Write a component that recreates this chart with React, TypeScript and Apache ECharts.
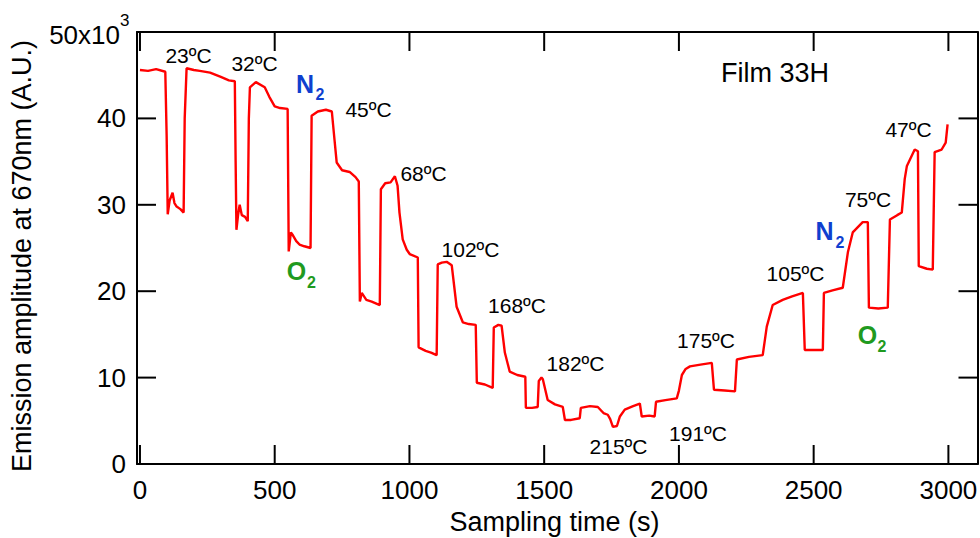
import React, { useEffect, useRef } from "react";
import * as echarts from "echarts";

// Sampling time (s)
const times = [
  0, 30, 60, 94, 99, 103, 110, 121, 128, 136, 150, 162, 166, 173, 200, 222, 260, 300, 330, 352,
  355, 358, 364, 370, 378, 390, 400, 404, 408, 430, 463, 480, 500, 520, 548, 552, 560, 567, 580,
  592, 610, 633, 637, 660, 690, 712, 722, 730, 750, 778, 800, 812, 816, 823, 840, 860, 890, 894,
  910, 930, 946, 956, 963, 975, 990, 1001, 1031, 1034, 1060, 1080, 1101, 1105, 1120, 1138, 1157,
  1175, 1198, 1220, 1246, 1250, 1280, 1309, 1313, 1330, 1342, 1354, 1372, 1400, 1430, 1432, 1455,
  1476, 1480, 1490, 1495, 1513, 1540, 1569, 1577, 1600, 1632, 1636, 1670, 1699, 1720, 1736, 1745,
  1755, 1770, 1781, 1799, 1830, 1855, 1862, 1890, 1910, 1915, 1950, 1992, 2000, 2011, 2025, 2041,
  2080, 2122, 2130, 2170, 2208, 2215, 2260, 2311, 2326, 2348, 2385, 2420, 2460, 2467, 2500, 2534,
  2538, 2570, 2608, 2627, 2645, 2682, 2701, 2705, 2740, 2775, 2783, 2810, 2827, 2838, 2846, 2875,
  2887, 2890, 2920, 2942, 2949, 2975, 2990, 2997,
];

// Emission amplitude at 670 nm (x10^3 A.U.)
const amplitude = [
  45.6, 45.5, 45.7, 45.4, 38, 28.9, 30.5, 31.4, 30.2, 29.8, 29.5, 29.1, 40, 45.8, 45.6, 45.5, 45.3,
  44.8, 44.4, 44.3, 35, 27.1, 28.8, 30.0, 28.8, 28.6, 28.1, 40, 43.6, 44.2, 43.6, 42.5, 41.4, 41.2,
  41.1, 24.6, 26.8, 26.5, 25.8, 25.4, 25.2, 25.0, 40.3, 40.8, 41.0, 40.8, 37.5, 34.9, 34.0, 33.8,
  33.2, 32.7, 18.8, 19.8, 19.0, 18.8, 18.4, 31.8, 32.5, 32.6, 33.3, 32.2, 29.1, 26.0, 24.8, 24.3,
  23.9, 13.5, 13.1, 12.9, 12.6, 23.1, 23.3, 23.4, 23.0, 18.2, 16.4, 16.2, 16.1, 9.4, 9.2, 8.8,
  15.8, 16.1, 16.0, 12.9, 10.7, 10.3, 10.1, 6.5, 6.5, 6.6, 9.6, 10.0, 9.8, 7.4, 6.9, 6.6, 5.1,
  5.1, 5.3, 6.5, 6.7, 6.6, 5.9, 5.7, 5.2, 4.3, 4.4, 5.5, 6.3, 6.7, 7.0, 5.5, 5.6, 5.5, 7.2, 7.4,
  7.6, 8.5, 10.3, 11.0, 11.3, 11.5, 11.7, 8.6, 8.5, 8.4, 12.1, 12.4, 12.6, 15.9, 18.4, 19.0, 19.4,
  19.8, 13.2, 13.2, 13.2, 19.8, 20.1, 20.4, 24.5, 26.8, 28.0, 28.0, 18.1, 18.0, 18.1, 28.3, 28.8,
  29.1, 33.0, 34.5, 36.4, 36.2, 22.9, 22.6, 22.5, 36.1, 36.4, 37.2, 39.3,
];

const xTicks = [0, 500, 1000, 1500, 2000, 2500, 3000];
const yTicks = [0, 10, 20, 30, 40, 50];

const temperatureLabels = [
  "23ºC", "32ºC", "45ºC", "68ºC", "102ºC", "168ºC", "182ºC",
  "215ºC", "191ºC", "175ºC", "105ºC", "75ºC", "47ºC",
];
const gasLabels = ["N", "O", "N", "O"];
const sampleName = "Film 33H";
const xTitle = "Sampling time (s)";
const yTitle = "Emission amplitude at 670nm (A.U.)";

// layout (pixel centres) for annotations
const tempPos = [
  [188.5, 55], [254.5, 63.5], [368.5, 109.5], [423.5, 173.5], [470.5, 249], [517, 305.5],
  [575.5, 363], [618.5, 446], [698, 433], [706, 340.5], [795.5, 273], [868, 199.5], [908.5, 129],
];
const gasPos = [
  [305, 83.5, 320, 94.5],
  [296.5, 271, 311.5, 282.5],
  [824.5, 230.5, 840, 242],
  [867.5, 335, 882, 346.5],
];
const gasColor: Record<string, string> = { N: "#0f3fcf", O: "#1f9a1f" };

const FONT = "Liberation Sans, Arial, sans-serif";

// plot frame geometry
const W = 980;
const H = 538;
const G_LEFT = 137;
const G_RIGHT_PX = 977.5;
const G_TOP = 32;
const G_BOTTOM = 74;
const X_MIN = -11;
const X_MAX = 3108;
const Y_MIN = 0;
const Y_MAX = 50;
const TICK_LEN = 19;
const TICK_W = 2;

const mkLine = () => ({ show: true, onZero: false, lineStyle: { color: "#000", width: 2 } });

export default function App() {
  const ref = useRef<HTMLDivElement>(null);
  useEffect(() => {
    if (!ref.current) return;
    const chart = echarts.init(ref.current, null, { renderer: "svg" });
    const data = times.map((t, i) => [t, amplitude[i]]);

    const txt = (text: string, x: number, y: number, font: string, fill = "#000", align = "center", extra: any = {}) => ({
      type: "text",
      x,
      y,
      ...extra,
      style: { text, fill, font, textAlign: align, textVerticalAlign: "middle" },
    });

    const graphics: any[] = [];
    temperatureLabels.forEach((t, i) => graphics.push(txt(t, tempPos[i][0], tempPos[i][1], `21px ${FONT}`)));
    gasLabels.forEach((g, i) => {
      const p = gasPos[i];
      graphics.push(txt(g, p[0], p[1], `bold 25px ${FONT}`, gasColor[g]));
      graphics.push(txt("2", p[2], p[3], `bold 16px ${FONT}`, gasColor[g]));
    });
    graphics.push(txt(sampleName, 775, 73, `27px ${FONT}`));
    graphics.push(txt(xTitle, 554.5, 522, `27px ${FONT}`));
    graphics.push(txt(yTitle, 22, 256, `27px ${FONT}`, "#000", "center", { rotation: Math.PI / 2 }));
    graphics.push(txt("50x10", 120, 34.5, `26px ${FONT}`, "#000", "right"));
    graphics.push(txt("3", 120, 20, `17px ${FONT}`, "#000", "left"));

    const tickFill = { fill: "#000" };

    chart.setOption({
      animation: false,
      grid: { left: G_LEFT, right: W - G_RIGHT_PX, top: G_TOP, bottom: G_BOTTOM, outerBoundsMode: "none" },
      xAxis: [
        {
          type: "value",
          min: X_MIN,
          max: X_MAX,
          axisLine: mkLine(),
          axisTick: { show: false },
          axisLabel: {
            customValues: xTicks,
            color: "#000",
            fontSize: 26,
            fontFamily: FONT,
            margin: 13,
            formatter: (v: number) => String(v),
          },
          splitLine: { show: false },
        },
        {
          type: "value",
          position: "top",
          min: X_MIN,
          max: X_MAX,
          axisLine: mkLine(),
          axisTick: { show: false },
          axisLabel: { show: false },
          splitLine: { show: false },
        },
      ],
      yAxis: [
        {
          type: "value",
          min: Y_MIN,
          max: Y_MAX,
          interval: 10,
          axisLine: mkLine(),
          axisTick: { show: false },
          axisLabel: {
            color: "#000",
            fontSize: 26,
            fontFamily: FONT,
            margin: 11,
            formatter: (v: number) => (v === 50 ? "" : String(v)),
          },
          splitLine: { show: false },
        },
        {
          type: "value",
          position: "right",
          min: Y_MIN,
          max: Y_MAX,
          interval: 10,
          axisLine: mkLine(),
          axisTick: { show: false },
          axisLabel: { show: false },
          splitLine: { show: false },
        },
      ],
      series: [
        {
          type: "line",
          xAxisIndex: 0,
          yAxisIndex: 0,
          data,
          showSymbol: false,
          lineStyle: { color: "#ff0000", width: 2.4 },
          itemStyle: { color: "#ff0000" },
          z: 2,
        },
        {
          // inward ticks on bottom and top axes, placed through the x scale
          type: "custom",
          xAxisIndex: 0,
          yAxisIndex: 0,
          clip: false,
          silent: true,
          z: 3,
          data: xTicks.map((v) => [v, Y_MIN]),
          renderItem: (params: any, api: any) => {
            const v = api.value(0);
            const b = api.coord([v, Y_MIN]);
            const t = api.coord([v, Y_MAX]);
            return {
              type: "group",
              children: [
                { type: "rect", shape: { x: b[0] - TICK_W / 2, y: b[1] - TICK_LEN, width: TICK_W, height: TICK_LEN }, style: tickFill },
                { type: "rect", shape: { x: t[0] - TICK_W / 2, y: t[1], width: TICK_W, height: TICK_LEN }, style: tickFill },
              ],
            };
          },
        },
        {
          // inward ticks on left and right axes, placed through the y scale
          type: "custom",
          xAxisIndex: 0,
          yAxisIndex: 0,
          clip: false,
          silent: true,
          z: 3,
          data: yTicks.filter((v) => v > Y_MIN && v < Y_MAX).map((v) => [X_MIN, v]),
          renderItem: (params: any, api: any) => {
            const v = api.value(1);
            const l = api.coord([X_MIN, v]);
            const r = api.coord([X_MAX, v]);
            return {
              type: "group",
              children: [
                { type: "rect", shape: { x: l[0], y: l[1] - TICK_W / 2, width: TICK_LEN, height: TICK_W }, style: tickFill },
                { type: "rect", shape: { x: r[0] - TICK_LEN, y: r[1] - TICK_W / 2, width: TICK_LEN, height: TICK_W }, style: tickFill },
              ],
            };
          },
        },
      ],
      graphic: graphics,
    });
    return () => chart.dispose();
  }, []);
  return <div ref={ref} style={{ position: "fixed", left: 0, top: 0, width: W, height: H, background: "#fff" }} />;
}
